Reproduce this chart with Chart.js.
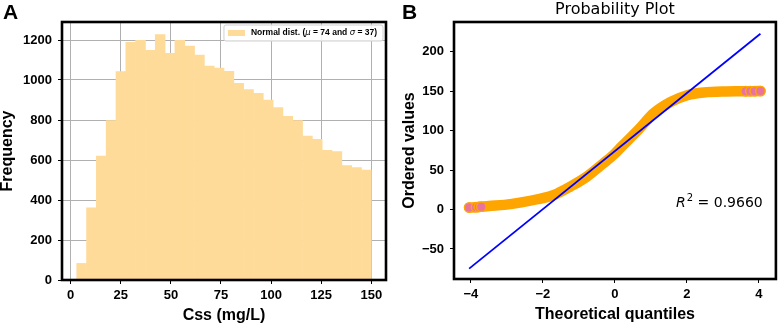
<!DOCTYPE html>
<html>
<head>
<meta charset="utf-8">
<script src="https://cdn.jsdelivr.net/npm/chart.js@4.4.1/dist/chart.umd.min.js"></script>
<style>
body { margin: 0; background: #fff; width: 782px; height: 327px; overflow: hidden; position: relative; }
canvas { position: absolute; top: 0; }
#histA { left: 0; }
#qqB { left: 395px; }
</style>
</head>
<body>
<canvas id="histA" width="395" height="327"></canvas>
<canvas id="qqB" width="387" height="327"></canvas>
<script>
// panel A: histogram of Css
const binEdges = [3, 7.9, 12.8, 17.7, 22.6, 27.5, 32.4, 37.3, 42.2, 47.1, 52, 56.9, 61.8, 66.7, 71.6,
    76.5, 81.4, 86.3, 91.2, 96.1, 101, 105.9, 110.8, 115.7, 120.6, 125.5, 130.4, 135.3, 140.2, 145.1, 150];
const counts = [83, 361, 620, 797, 1042, 1188, 1198, 1148, 1227, 1133, 1198, 1170, 1125, 1070, 1060,
    1043, 983, 952, 933, 900, 862, 818, 797, 720, 703, 648, 642, 572, 562, 550];
const histXTicks = [0, 25, 50, 75, 100, 125, 150];
const histYTicks = [0, 200, 400, 600, 800, 1000, 1200];
const legendMu = '74';
const legendSigma = '37';

// panel B: probability plot
const quantiles = [-4.05, -3.86, -3.78, -3.71, -3.5, -3.07, -2.6, -2.15, -1.69, -1.24, -0.78, -0.32, 0,
    0.18, 0.64, 1.09, 1.55, 2.01, 2.47, 3.1, 3.5, 3.63, 3.76, 3.88, 4.04];
const orderedValues = [2.5, 3, 3.3, 3.6, 4.5, 5.9, 9, 13, 18.6, 29, 41.7, 58.6, 71,
    79.5, 100.6, 122.5, 136.4, 144.8, 148.2, 149.5, 149.7, 149.8, 149.9, 149.9, 150];
const fitX = [-4.05, 4.04];
const fitY = [-74.9, 222.7];
const qqXTicks = [-4, -2, 0, 2, 4];
const qqYTicks = [-50, 0, 50, 100, 150, 200];
const rSquared = '0.9660';

const arial = 'Liberation Sans, Arial, sans-serif';
const dejavu = 'DejaVu Sans, sans-serif';
const minus = v => String(v).replace('-', '\u2212');

Chart.defaults.animation = false;
Chart.defaults.responsive = false;
Chart.defaults.devicePixelRatio = 1;
Chart.defaults.color = '#000';

// thick black box round the plot area + panel letter
const frame = {
    id: 'frame',
    afterDraw(chart, args, opts) {
        const { ctx, chartArea: a } = chart;
        ctx.save();
        ctx.strokeStyle = '#000';
        ctx.lineWidth = 2.6;
        ctx.strokeRect(a.left, a.top, a.right - a.left, a.bottom - a.top);
        ctx.font = 'bold 21px ' + arial;
        ctx.fillStyle = '#000';
        ctx.textBaseline = 'alphabetic';
        ctx.fillText(opts.letter, opts.lx, 18.5);
        ctx.restore();
    }
};

const histLegend = {
    id: 'histLegend',
    afterDraw(chart) {
        const { ctx, chartArea: a } = chart;
        const parts = [
            ['bold 8.5px ' + arial, 'Normal dist. ('],
            ['italic 8.5px ' + dejavu, '\u03bc'],
            ['bold 8.5px ' + arial, ' = ' + legendMu + ' and '],
            ['italic 8.5px ' + dejavu, '\u03c3'],
            ['bold 8.5px ' + arial, ' = ' + legendSigma + ')']
        ];
        ctx.save();
        let w = 0;
        parts.forEach(p => { ctx.font = p[0]; w += ctx.measureText(p[1]).width; });
        const right = a.right - 3, top = a.top + 3, h = 16;
        const left = right - (w + 33);
        ctx.beginPath();
        ctx.roundRect(left, top, right - left, h, 2);
        ctx.fillStyle = 'rgba(255,255,255,0.85)';
        ctx.fill();
        ctx.strokeStyle = '#d0d0d0';
        ctx.lineWidth = 1;
        ctx.stroke();
        const cy = top + h / 2;
        ctx.fillStyle = '#ffdb99';
        ctx.fillRect(left + 4, cy - 3, 17, 6);
        let x = left + 27;
        ctx.fillStyle = '#000';
        ctx.textBaseline = 'middle';
        parts.forEach(p => { ctx.font = p[0]; ctx.fillText(p[1], x, cy); x += ctx.measureText(p[1]).width; });
        ctx.restore();
    }
};

const qqText = {
    id: 'qqText',
    afterDraw(chart) {
        const { ctx, chartArea: a } = chart;
        ctx.save();
        ctx.fillStyle = '#000';
        ctx.font = '16px ' + dejavu;
        ctx.textAlign = 'center';
        ctx.textBaseline = 'middle';
        ctx.fillText('Probability Plot', (a.left + a.right) / 2, 10);
        ctx.textAlign = 'left';
        ctx.textBaseline = 'alphabetic';
        let x = 281, y = 207;
        ctx.font = 'italic 14px ' + dejavu;
        ctx.fillText('R', x, y);
        x += ctx.measureText('R').width + 1;
        ctx.font = '10px ' + dejavu;
        ctx.fillText('2', x, y - 6);
        x += ctx.measureText('2').width;
        ctx.font = '14px ' + dejavu;
        ctx.fillText(' = ' + rSquared, x, y);
        ctx.restore();
    }
};

function fixTicks(list) {
    return scale => { scale.ticks = list.map(v => ({ value: v })); };
}

const tickFont = { family: arial, size: 13, weight: 'bold' };
const titleFont = { family: arial, size: 16, weight: 'bold', lineHeight: 1 };

const histBars = counts.map((c, i) => ({ x: (binEdges[i] + binEdges[i + 1]) / 2, y: c }));

new Chart(document.getElementById('histA'), {
    type: 'bar',
    data: {
        datasets: [{
            data: histBars,
            backgroundColor: '#ffdb99',
            borderWidth: 0,
            barPercentage: 1,
            categoryPercentage: 1
        }]
    },
    options: {
        layout: { padding: { top: 22, right: 9, left: 0, bottom: 0 } },
        plugins: { legend: { display: false }, tooltip: { enabled: false }, frame: { letter: 'A', lx: 3 } },
        scales: {
            x: {
                type: 'linear', min: -4.35, max: 157.35, offset: false, z: 1,
                afterBuildTicks: fixTicks(histXTicks),
                afterFit: s => { s.height = 47; },
                grid: { color: '#b0b0b0', lineWidth: 1, tickColor: '#000', tickLength: 4, offset: false },
                border: { display: false },
                ticks: { font: tickFont, padding: 4, maxRotation: 0, callback: v => String(v) },
                title: { display: true, text: 'Css (mg/L)', font: titleFont, padding: { top: 0, bottom: 3 } }
            },
            y: {
                min: 0, max: 1290, z: 1,
                afterBuildTicks: fixTicks(histYTicks),
                afterFit: s => { s.width = 62; },
                grid: { color: '#b0b0b0', lineWidth: 1, tickColor: '#000', tickLength: 4 },
                border: { display: false },
                ticks: { font: tickFont, padding: 6, callback: v => String(v) },
                title: { display: true, text: 'Frequency', font: titleFont, padding: { top: 0, bottom: 0 } }
            }
        }
    },
    plugins: [frame, histLegend]
});

const qqPoints = quantiles.map((q, i) => ({ x: q, y: orderedValues[i] }));
const fitPoints = fitX.map((q, i) => ({ x: q, y: fitY[i] }));
const tailRadius = quantiles.map(q => (Math.abs(q) > 3.6 ? 4.7 : 0));

new Chart(document.getElementById('qqB'), {
    type: 'scatter',
    data: {
        datasets: [
            {
                data: fitPoints, showLine: true, borderColor: '#0000ff', borderWidth: 1.8,
                pointRadius: 0
            },
            {
                data: qqPoints, showLine: true, borderColor: '#ffa500', borderWidth: 10.5,
                borderCapStyle: 'round', borderJoinStyle: 'round', cubicInterpolationMode: 'monotone',
                pointRadius: tailRadius, pointBackgroundColor: '#e8739f',
                pointBorderColor: '#ffa500', pointBorderWidth: 1.4
            }
        ]
    },
    options: {
        layout: { padding: { top: 22, right: 2, left: 0, bottom: 0 } },
        plugins: { legend: { display: false }, tooltip: { enabled: false }, frame: { letter: 'B', lx: 7 } },
        scales: {
            x: {
                type: 'linear', min: -4.47, max: 4.47,
                afterBuildTicks: fixTicks(qqXTicks),
                afterFit: s => { s.height = 48; },
                grid: { drawOnChartArea: false, tickColor: '#000', tickLength: 4 },
                border: { display: false },
                ticks: { font: tickFont, padding: 4, maxRotation: 0, callback: minus },
                title: { display: true, text: 'Theoretical quantiles', font: titleFont, padding: { top: 0, bottom: 4 } }
            },
            y: {
                min: -88, max: 237.5,
                afterBuildTicks: fixTicks(qqYTicks),
                afterFit: s => { s.width = 59; },
                grid: { drawOnChartArea: false, tickColor: '#000', tickLength: 4 },
                border: { display: false },
                ticks: { font: tickFont, padding: 6, callback: minus },
                title: { display: true, text: 'Ordered values', font: titleFont, padding: { top: 7, bottom: 0 } }
            }
        }
    },
    plugins: [frame, qqText]
});
</script>
</body>
</html>
